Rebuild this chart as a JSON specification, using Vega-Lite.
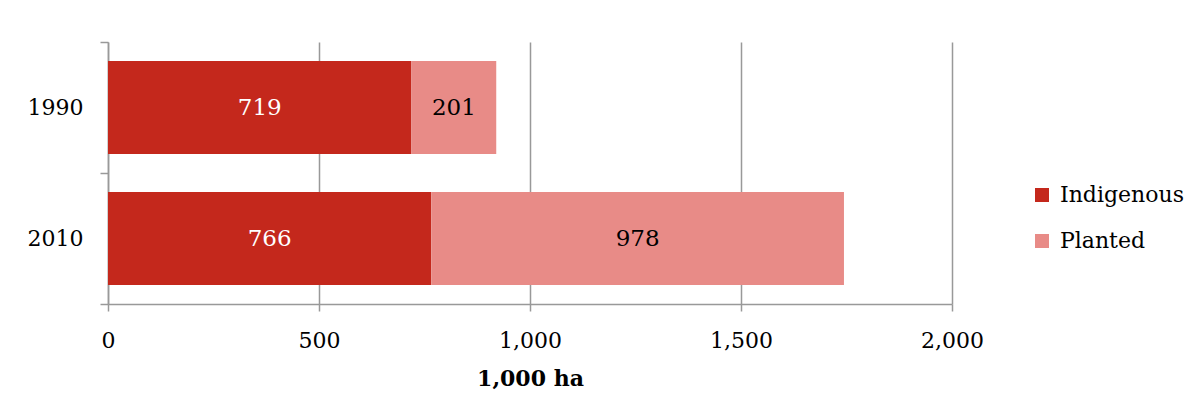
{
  "$schema": "https://vega.github.io/schema/vega-lite/v6.json",
  "width": 844,
  "height": 262,
  "autosize": {"type": "none"},
  "padding": {"left": 108, "top": 42, "right": 243, "bottom": 112},
  "background": "white",
  "config": {
    "view": {"stroke": null},
    "font": "DejaVu Serif",
    "axis": {"labelFont": "DejaVu Serif", "titleFont": "DejaVu Serif", "labelColor": "#000", "titleColor": "#000"},
    "legend": {"labelFont": "DejaVu Serif"}
  },
  "data": {
    "values": [
      {"year": "1990", "type": "Indigenous", "value": 719},
      {"year": "1990", "type": "Planted", "value": 201},
      {"year": "2010", "type": "Indigenous", "value": 766},
      {"year": "2010", "type": "Planted", "value": 978}
    ]
  },
  "encoding": {
    "y": {
      "field": "year",
      "type": "nominal",
      "scale": {"paddingInner": 0, "paddingOuter": 0},
      "axis": {
        "title": null,
        "tickBand": "extent",
        "domainColor": "#999999",
        "domainWidth": 1.5,
        "tickColor": "#999999",
        "tickWidth": 1.5,
        "tickSize": 8,
        "labelPadding": 17,
        "labelFontSize": 22,
        "labelAngle": 0,
        "grid": false
      }
    }
  },
  "layer": [
    {
      "mark": {"type": "bar", "height": {"band": 0.71}},
      "encoding": {
        "x": {
          "field": "value",
          "type": "quantitative",
          "stack": "zero",
          "scale": {"domain": [0, 2000], "nice": false},
          "axis": {
            "title": "1,000 ha",
            "titleFontSize": 22,
            "titleFontWeight": "bold",
            "titlePadding": 17,
            "values": [0, 500, 1000, 1500, 2000],
            "format": ",d",
            "labelFontSize": 22,
            "labelPadding": 19,
            "tickSize": 7,
            "tickColor": "#999999",
            "tickWidth": 1.5,
            "domainColor": "#999999",
            "domainWidth": 1.5,
            "grid": true,
            "gridColor": "#999999",
            "gridWidth": 1.5,
            "labelFlush": false
          }
        },
        "order": {"field": "type", "type": "nominal", "sort": "ascending"},
        "color": {
          "field": "type",
          "type": "nominal",
          "scale": {"domain": ["Indigenous", "Planted"], "range": ["#C4281C", "#E88B87"]},
          "legend": {
            "title": null,
            "orient": "none",
            "legendX": 923,
            "legendY": 142,
            "symbolType": "square",
            "symbolSize": 196,
            "symbolStrokeWidth": 0,
            "labelFontSize": 22,
            "labelOffset": 7,
            "rowPadding": 24,
            "labelColor": "#000"
          }
        }
      }
    },
    {
      "mark": {"type": "text", "fontSize": 23, "baseline": "middle", "align": "center"},
      "encoding": {
        "x": {"field": "value", "type": "quantitative", "stack": "zero", "bandPosition": 0.5},
        "detail": {"field": "type"},
        "order": {"field": "type", "type": "nominal", "sort": "ascending"},
        "text": {"field": "value", "type": "quantitative", "format": "d"},
        "color": {
          "condition": {"test": "datum.type === 'Indigenous'", "value": "white"},
          "value": "black"
        }
      }
    }
  ]
}
